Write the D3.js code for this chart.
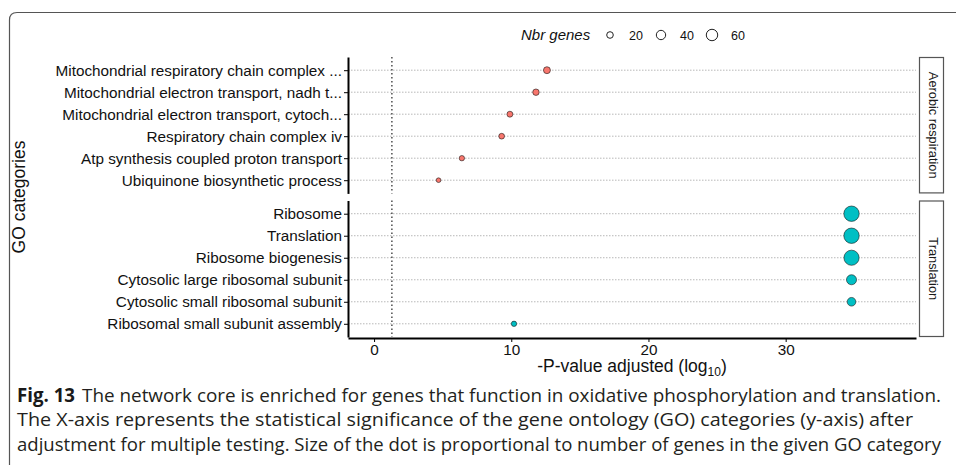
<!DOCTYPE html>
<html>
<head>
<meta charset="utf-8">
<script src="https://cdn.jsdelivr.net/npm/d3@7"></script>
<style>
  body { margin: 0; background: #fff; }
  svg { display: block; }
</style>
</head>
<body>
<svg id="chart" width="956" height="465"></svg>
<script>
// GO enrichment of the network core: -log10 adjusted p-value and gene counts per category
const aerobicTerms = [
  "Mitochondrial respiratory chain complex ...",
  "Mitochondrial electron transport, nadh t...",
  "Mitochondrial electron transport, cytoch...",
  "Respiratory chain complex iv",
  "Atp synthesis coupled proton transport",
  "Ubiquinone biosynthetic process"
];
const aerobicLog10P = [12.6, 11.8, 9.9, 9.3, 6.4, 4.7];
const aerobicGenes = [22, 19, 16, 15, 13, 10];

const translationTerms = [
  "Ribosome",
  "Translation",
  "Ribosome biogenesis",
  "Cytosolic large ribosomal subunit",
  "Cytosolic small ribosomal subunit",
  "Ribosomal small subunit assembly"
];
const translationLog10P = [34.8, 34.8, 34.8, 34.8, 34.8, 10.2];
const translationGenes = [108, 108, 105, 46, 34, 13];

const panelLabels = ["Aerobic respiration", "Translation"];
const panelColors = ["#F8766D", "#00BFC4"];
const xTickValues = [0, 10, 20, 30];
const legendBreaks = [20, 40, 60];
const significanceLine = 1.3; // -log10(0.05)

const captionLines = [
  "The network core is enriched for genes that function in oxidative phosphorylation and translation.",
  "The X-axis represents the statistical significance of the gene ontology (GO) categories (y-axis) after",
  "adjustment for multiple testing. Size of the dot is proportional to number of genes in the given GO category"
];

const panels = [
  { label: panelLabels[0], color: panelColors[0], terms: aerobicTerms, values: aerobicLog10P, genes: aerobicGenes },
  { label: panelLabels[1], color: panelColors[1], terms: translationTerms, values: translationLog10P, genes: translationGenes }
];

const svg = d3.select("#chart");
const FONT = "'Liberation Sans', Arial, Helvetica, sans-serif";

// figure frame with rounded top-left corner
svg.append("path")
  .attr("d", "M9.5,470 L9.5,20 Q9.5,12.5 17,12.5 L960,12.5")
  .attr("fill", "none")
  .attr("stroke", "#555")
  .attr("stroke-width", 1.2);

const plotLeft = 348, plotRight = 916;
const panelBands = [[57, 193.4], [200.5, 337]];

const x = d3.scaleLinear().domain([-1.9, 39.5]).range([plotLeft, plotRight]);
const r = d3.scaleSqrt().domain([0, 120]).range([0, 8.1]);

panels.forEach((p, i) => {
  const [top, bottom] = panelBands[i];
  const y = d3.scalePoint().domain(p.terms).range([top, bottom]).padding(0.6);
  const g = svg.append("g");

  // horizontal dotted guides
  g.selectAll("line.grid").data(p.terms).join("line")
    .attr("x1", plotLeft).attr("x2", plotRight)
    .attr("y1", d => y(d)).attr("y2", d => y(d))
    .attr("stroke", "#b8b8b8").attr("stroke-width", 1)
    .attr("stroke-dasharray", "1.5,1.5");

  // significance threshold
  g.append("line")
    .attr("x1", x(significanceLine)).attr("x2", x(significanceLine))
    .attr("y1", top).attr("y2", bottom)
    .attr("stroke", "#222").attr("stroke-width", 1.2)
    .attr("stroke-dasharray", "1.5,2.5");

  // dots
  g.selectAll("circle.dot").data(p.terms).join("circle")
    .attr("cx", (d, k) => x(p.values[k]))
    .attr("cy", d => y(d))
    .attr("r", (d, k) => r(p.genes[k]))
    .attr("fill", p.color)
    .attr("stroke", "#1a1a1a").attr("stroke-width", 0.6);

  // y axis
  const ay = g.append("g").attr("transform", `translate(${plotLeft},0)`)
    .call(d3.axisLeft(y).tickSize(4).tickSizeOuter(0).tickPadding(2));
  ay.select(".domain").attr("stroke", "#000").attr("stroke-width", 2);
  ay.selectAll(".tick line").attr("stroke", "#000").attr("stroke-width", 1);
  ay.selectAll(".tick text").attr("font-family", FONT).attr("font-size", 15.3).attr("fill", "#111");

  // facet strip
  g.append("rect")
    .attr("x", 919.5).attr("y", top + 0.5)
    .attr("width", 24).attr("height", bottom - top - 1)
    .attr("fill", "#fff").attr("stroke", "#555").attr("stroke-width", 1.2);
  g.append("text")
    .attr("transform", `translate(${928.5},${(top + bottom) / 2}) rotate(90)`)
    .attr("text-anchor", "middle")
    .attr("font-family", FONT).attr("font-size", 12.8).attr("fill", "#1a1a1a")
    .text(p.label);
});

// x axis
const ax = svg.append("g").attr("transform", `translate(0,${panelBands[1][1] + 1})`)
  .call(d3.axisBottom(x).tickValues(xTickValues).tickSize(4).tickSizeOuter(0).tickPadding(2));
ax.select(".domain").attr("stroke", "#000").attr("stroke-width", 2);
ax.selectAll(".tick line").attr("stroke", "#000").attr("stroke-width", 1);
ax.selectAll(".tick text").attr("font-family", FONT).attr("font-size", 15.3).attr("fill", "#111");

// axis titles
const xt = svg.append("text")
  .attr("x", (plotLeft + plotRight) / 2).attr("y", 372)
  .attr("text-anchor", "middle")
  .attr("font-family", FONT).attr("font-size", 17.5).attr("fill", "#111");
xt.append("tspan").text("-P-value adjusted (log");
xt.append("tspan").attr("font-size", 12).attr("dy", 4).text("10");
xt.append("tspan").attr("dy", -4).text(")");

svg.append("text")
  .attr("transform", "translate(25,197) rotate(-90)")
  .attr("text-anchor", "middle")
  .attr("font-family", FONT).attr("font-size", 17.5).attr("fill", "#111")
  .text("GO categories");

// size legend
const lg = svg.append("g");
lg.append("text")
  .attr("x", 521).attr("y", 40)
  .attr("font-family", FONT).attr("font-size", 15).attr("font-style", "italic").attr("fill", "#111")
  .text("Nbr genes");
const legendX = d3.scalePoint().domain(legendBreaks).range([610, 712]);
lg.selectAll("circle").data(legendBreaks).join("circle")
  .attr("cx", d => legendX(d)).attr("cy", 35)
  .attr("r", d => r(d))
  .attr("fill", "none").attr("stroke", "#222").attr("stroke-width", 1);
lg.selectAll("text.lab").data(legendBreaks).join("text")
  .attr("class", "lab")
  .attr("x", d => legendX(d) + 19).attr("y", 39.5)
  .attr("font-family", FONT).attr("font-size", 12.5).attr("fill", "#111")
  .text(d => d);

// caption
const CAP = "'Open Sans', 'Noto Sans', sans-serif";
svg.append("text")
  .attr("x", 17).attr("y", 401.5)
  .attr("font-family", CAP).attr("font-weight", 700).attr("font-size", 19).attr("fill", "#1a1a1a")
  .attr("textLength", 58).attr("lengthAdjust", "spacingAndGlyphs")
  .text("Fig. 13");
const capStarts = [82, 17, 17];
const capEnds = [941, 913, 941];
captionLines.forEach((line, i) => {
  svg.append("text")
    .attr("x", capStarts[i]).attr("y", 401.5 + i * 24.5)
    .attr("font-family", CAP).attr("font-size", 18.5).attr("fill", "#231f20")
    .attr("textLength", capEnds[i] - capStarts[i]).attr("lengthAdjust", "spacingAndGlyphs")
    .text(line);
});
</script>
</body>
</html>
